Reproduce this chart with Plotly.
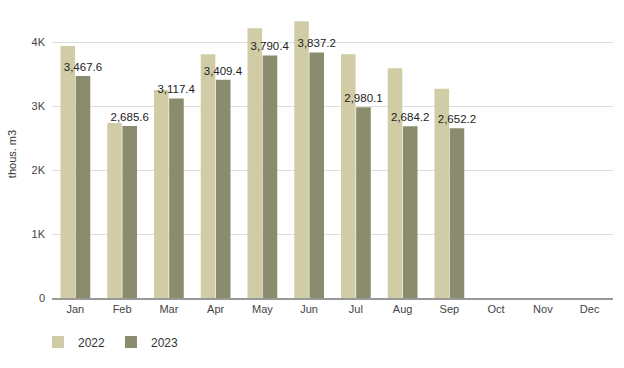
import plotly.graph_objects as go

months = ["Jan", "Feb", "Mar", "Apr", "May", "Jun", "Jul", "Aug", "Sep", "Oct", "Nov", "Dec"]
vals_2022 = [3937, 2734, 3250, 3810, 4215, 4325, 3810, 3590, 3270, None, None, None]
vals_2023 = [3467.6, 2685.6, 3117.4, 3409.4, 3790.4, 3837.2, 2980.1, 2684.2, 2652.2, None, None, None]
y_ticks = [0, 1000, 2000, 3000, 4000]
y_tick_labels = ["0", "1K", "2K", "3K", "4K"]

fig = go.Figure()
fig.add_trace(go.Bar(
    x=months, y=vals_2022, name="2022",
    marker=dict(color="#CFCCA6", line=dict(width=0)),
    hoverinfo="skip",
))
fig.add_trace(go.Bar(
    x=months, y=vals_2023, name="2023",
    marker=dict(color="#8A8C6D", line=dict(width=0)),
    texttemplate="%{y:,.1f}", textposition="outside",
    constraintext="none",
    textfont=dict(size=11.5, color="#222222", family="Liberation Sans, Arial, sans-serif"),
    cliponaxis=False,
    hoverinfo="skip",
))

fig.update_layout(
    width=624, height=368,
    margin=dict(l=52, r=11, t=10, b=70),
    paper_bgcolor="white", plot_bgcolor="white",
    barmode="group", bargap=0.35, bargroupgap=0.04,
    font=dict(family="Liberation Sans, Arial, sans-serif", size=11, color="#444444"),
    showlegend=True,
    legend=dict(orientation="h", x=-0.025, xanchor="left", y=-0.153, yanchor="middle",
                font=dict(size=12, color="#333333"), entrywidth=28, entrywidthmode="pixels",
                traceorder="normal"),
)
fig.update_xaxes(
    categoryorder="array", categoryarray=months,
    showgrid=False, showline=True, linecolor="#999999", linewidth=2,
    ticks="", tickfont=dict(size=11, color="#444444"),
)
fig.update_yaxes(
    range=[0, 4500], tickvals=y_ticks, ticktext=y_tick_labels,
    showgrid=True, gridcolor="#DDDDDD", gridwidth=1, zeroline=False,
    ticks="", ticklen=0, ticklabelstandoff=6, tickfont=dict(size=11, color="#444444"),
    title=dict(text="thous. m3", font=dict(size=11, color="#333333"), standoff=12),
)

fig.write_html("out.html", config={"displayModeBar": False},
               post_script="document.body.style.margin='0';")
